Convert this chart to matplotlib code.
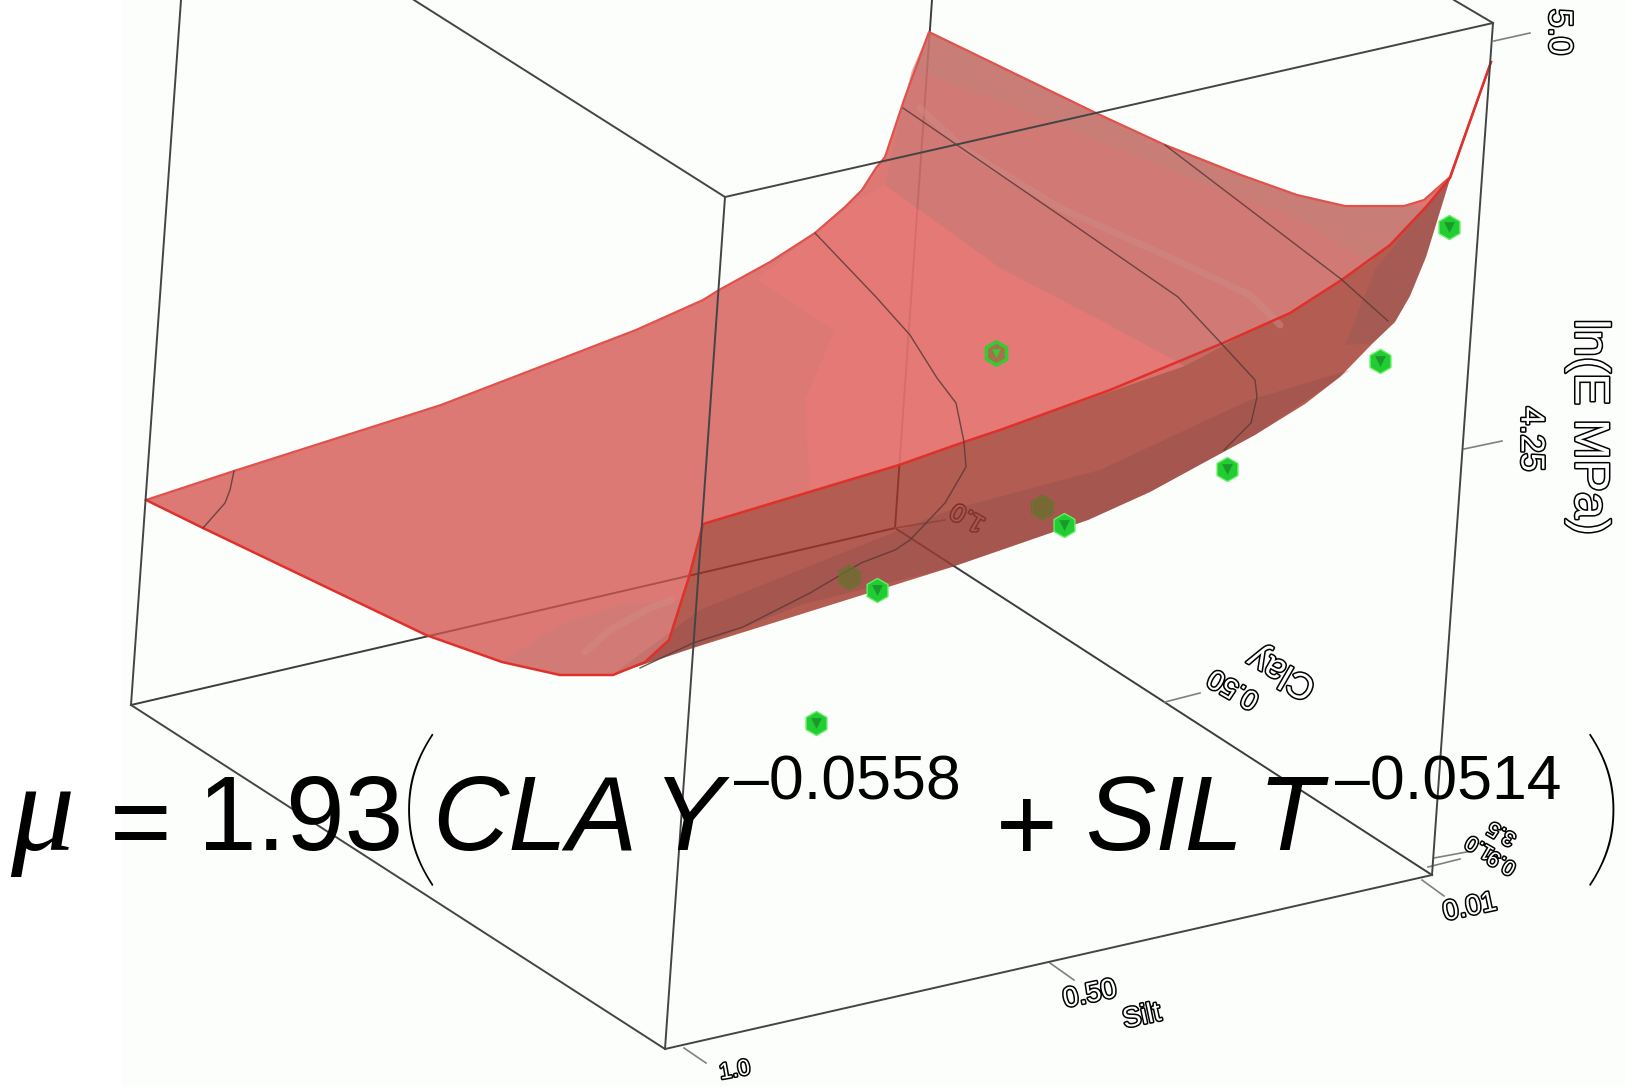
import matplotlib
matplotlib.use('Agg')
import matplotlib.pyplot as plt
import matplotlib.patheffects as pe

# everything, in picture pixels
sheet_top_x = [146, 234, 441, 636, 703, 719, 770, 815, 845, 862, 876, 885, 904, 929, 1098, 1165, 1241, 1297, 1345, 1404, 1424, 1450, 1491]
sheet_top_y = [500, 471, 405, 330, 300, 290, 262, 233, 207, 190, 168, 157, 100, 32, 114, 145, 175, 195, 206, 206, 200, 177, 62]
sheet_front_x = [1491, 1450, 1426, 1390, 1343, 1290, 1223, 1110, 1000, 964, 899, 703, 689, 669, 645, 613, 560, 502, 426, 203, 146]
sheet_front_y = [62, 178, 207, 245, 279, 313, 343, 390, 430, 442, 465, 524, 577, 640, 662, 675, 675, 662, 635, 528, 500]
band_low_x = [1491, 1450, 1426, 1410, 1395, 1373, 1340, 1305, 1255, 1205, 1150, 1088, 952, 693, 612]
band_low_y = [62, 179, 257, 296, 322, 343, 377, 404, 435, 462, 492, 520, 567, 648, 675]
band_top_x = [1491, 1450, 1426, 1390, 1343, 1290, 1223, 1110, 1000, 964, 899, 703, 689, 669, 645, 612]
band_top_y = [62, 178, 207, 245, 279, 313, 343, 390, 430, 442, 465, 524, 577, 640, 662, 675]

bright_x = [815, 855, 885, 1000, 1100, 1185, 964, 899, 810, 805, 835, 757]
bright_y = [233, 202, 185, 268, 320, 366, 442, 465, 490, 400, 330, 280]
back_x = [929, 1098, 1165, 1241, 1297, 1345, 1404, 1426, 1370, 1290, 1170, 1010, 912]
back_y = [32, 114, 145, 175, 195, 206, 206, 207, 262, 215, 170, 105, 70]
mid_x = [912, 1010, 1170, 1290, 1370, 1343, 1290, 1185, 1100, 1000, 885, 904]
mid_y = [70, 105, 170, 215, 262, 279, 310, 366, 320, 268, 185, 100]
corner_x = [502, 560, 613, 645, 669, 681, 620, 560]
corner_y = [662, 675, 675, 662, 640, 600, 605, 625]
streak_x = [920, 965, 1060, 1180, 1250, 1280]
streak_y = [108, 150, 208, 262, 295, 325]
streak2_x = [585, 610, 650, 672]
streak2_y = [652, 630, 608, 600]
band_dark_x = [1450, 1426, 1410, 1395, 1373, 1345, 1375, 1426]
band_dark_y = [179, 257, 296, 322, 343, 345, 270, 207]
band_low2_x = [1350, 1255, 1205, 1150, 1088, 952, 800, 693, 612, 700, 800, 950, 1100, 1250]
band_low2_y = [370, 435, 462, 492, 520, 567, 605, 648, 675, 610, 570, 510, 470, 400]

contour1_x = [203, 225, 230, 234]
contour1_y = [528, 503, 490, 471]
contour2_x = [815, 876, 910, 937, 956, 964, 966, 945, 910, 895, 861, 810, 743, 693, 640]
contour2_y = [233, 297, 335, 378, 403, 442, 467, 503, 540, 550, 563, 593, 627, 643, 668]
contour3_x = [903, 960, 1071, 1178, 1220, 1255, 1257, 1251, 1224]
contour3_y = [108, 147, 223, 297, 342, 380, 397, 423, 450]
contour4_x = [1165, 1341, 1388]
contour4_y = [145, 279, 321]

box_behind_x = [[932, 895], [131, 895], [895, 1432]]
box_behind_y = [[0, 528], [705, 528], [528, 875]]
box_front_x = [[181, 131], [131, 665], [665, 725], [725, 414], [725, 1493], [1493, 1432], [1454, 1493], [665, 1432]]
box_front_y = [[0, 705], [705, 1049], [1049, 197], [197, 0], [197, 23], [23, 875], [0, 23], [1049, 875]]
tick_x = [[1494, 1530], [1464, 1502], [1434, 1472], [1428, 1460], [1422, 1444], [1050, 1074], [684, 706], [1165, 1200], [895, 945]]
tick_y = [[41, 33], [449, 441], [858, 851], [867, 859], [880, 896], [963, 980], [1048, 1063], [702, 693], [528, 520]]

points_front_x = [1449, 1380, 1227, 1064, 877, 816]
points_front_y = [227, 361, 469, 525, 590, 723]
points_behind_x = [1042, 849]
points_behind_y = [507, 577]
points_top_x = [996]
points_top_y = [353]

axis_labels = ['5.0', '4.25', 'ln(E MPa)', '3.5', '1.0', '0.9', '0.01', '0.50', 'Silt', '1.0', '0.50', 'Clay']
axis_label_x = [1558, 1530, 1588, 1502, 1480, 1502, 1470, 1090, 1142, 735, 1234, 1282]
axis_label_y = [32, 439, 427, 833, 847, 862, 908, 995, 1017, 1071, 688, 672]
axis_label_rot = [270, 270, 270, 150, 150, 150, 12, 12, 12, 10, 150, 150]
axis_label_size = [24, 24, 35, 15, 15, 15, 20, 20, 20, 16, 20, 26]

fig = plt.figure(figsize=(16.25, 10.87), dpi=100)
ax = fig.add_axes([0, 0, 1, 1])
ax.set_xlim(0, 1625)
ax.set_ylim(1087, 0)
ax.axis('off')
ax.axvspan(122, 1625, color='#fcfefc', lw=0, zorder=0)

# floor lines and the points under the sheet go first, the sheet is see through
for xs, ys in zip(box_behind_x, box_behind_y):
    ax.plot(xs, ys, color='#3c3c3c', lw=1.4, zorder=1)
for xs, ys in zip(tick_x, tick_y):
    ax.plot(xs, ys, color='#808080', lw=1.2, zorder=1)
ax.scatter(points_behind_x, points_behind_y, s=300, marker='h', color='#2fbf2f', edgecolors='#22aa22', zorder=1)

outline = [pe.withStroke(linewidth=2.2, foreground='black')]
ax.text(968, 517, '1.0', rotation=150, fontsize=18, color='white', ha='center', va='center', rotation_mode='anchor',
        family='Liberation Sans', path_effects=outline, zorder=1)

ax.fill(sheet_top_x + sheet_front_x, sheet_top_y + sheet_front_y, color='#d4544e', alpha=0.78, lw=0, zorder=2)
ax.fill(band_top_x + band_low_x[::-1], band_top_y + band_low_y[::-1], color='#a03428', alpha=0.8, lw=0, zorder=3)
ax.fill(band_dark_x, band_dark_y, color='#7f5a56', alpha=0.25, lw=0, zorder=3)
ax.fill(band_low2_x, band_low2_y, color='#8a4a46', alpha=0.3, lw=0, zorder=3)

ax.fill(bright_x, bright_y, color='#ea7a78', alpha=0.7, lw=0, zorder=3)
ax.fill(back_x, back_y, color='#bc8078', alpha=0.6, lw=0, zorder=3)
ax.fill(mid_x, mid_y, color='#cb7a74', alpha=0.6, lw=0, zorder=3)
ax.fill(corner_x, corner_y, color='#c97c76', alpha=0.5, lw=0, zorder=3)
ax.plot(streak_x, streak_y, color='#cf8a86', lw=5, alpha=0.5, solid_capstyle='round', zorder=3)
ax.plot(streak2_x, streak2_y, color='#d48c88', lw=5, alpha=0.45, solid_capstyle='round', zorder=3)

ax.plot(sheet_top_x, sheet_top_y, color='#e2524c', lw=1.6, zorder=4)
ax.plot(sheet_front_x, sheet_front_y, color='#e0302c', lw=1.8, zorder=4)
for xs, ys in [(contour1_x, contour1_y), (contour2_x, contour2_y), (contour3_x, contour3_y), (contour4_x, contour4_y)]:
    ax.plot(xs, ys, color='#5a3a38', lw=1.0, alpha=0.85, zorder=4)

for xs, ys in zip(box_front_x, box_front_y):
    ax.plot(xs, ys, color='#444444', lw=1.4, zorder=5)

ax.scatter(points_behind_x, points_behind_y, s=300, marker='h', facecolors='#6e7a3a', edgecolors='#5a8a30', lw=1, alpha=0.6, zorder=4)
ax.scatter(points_front_x, points_front_y, s=300, marker='h', color='#22cc33', edgecolors='#66ee66', lw=1, zorder=6)
ax.scatter(points_front_x, points_front_y, s=60, marker='v', color='#1a9a2a', lw=0, zorder=6)
ax.scatter(points_top_x, points_top_y, s=280, marker='h', color='#a5704a', edgecolors='#33cc33', lw=2.5, zorder=6)
ax.scatter(points_top_x, points_top_y, s=40, marker='v', color='#33cc33', lw=0, zorder=6)

for s, x, y, r, fs in zip(axis_labels, axis_label_x, axis_label_y, axis_label_rot, axis_label_size):
    ax.text(x, y, s, rotation=r, fontsize=fs, color='white', ha='center', va='center',
            rotation_mode='anchor', family='Liberation Sans', path_effects=outline, zorder=5)

# the formula sits on top of the whole chart
big = 76
sup = 45
sans = 'Liberation Sans'
ax.text(10, 850, 'μ', fontsize=92, family='Liberation Serif', style='italic', zorder=8)
ax.text(110, 858, '=', fontsize=big, family=sans, zorder=8)
ax.text(198, 850, '1.93', fontsize=big, family=sans, zorder=8)
ax.text(397, 865, '(', fontsize=125, family='Lato', fontweight='light', zorder=8)
ax.text(432, 850, 'CLA', fontsize=big, family=sans, style='italic', zorder=8)
ax.text(652, 850, 'Y', fontsize=big, family=sans, style='italic', zorder=8)
ax.text(734, 800, '–0.0558', fontsize=sup, family=sans, zorder=8)
ax.text(996, 860, '+', fontsize=big, family=sans, zorder=8)
ax.text(1085, 850, 'SIL', fontsize=big, family=sans, style='italic', zorder=8)
ax.text(1258, 850, 'T', fontsize=big, family=sans, style='italic', zorder=8)
ax.text(1335, 800, '–0.0514', fontsize=sup, family=sans, zorder=8)
ax.text(1582, 865, ')', fontsize=125, family='Lato', fontweight='light', zorder=8)

fig.savefig('out.png', dpi=100)
